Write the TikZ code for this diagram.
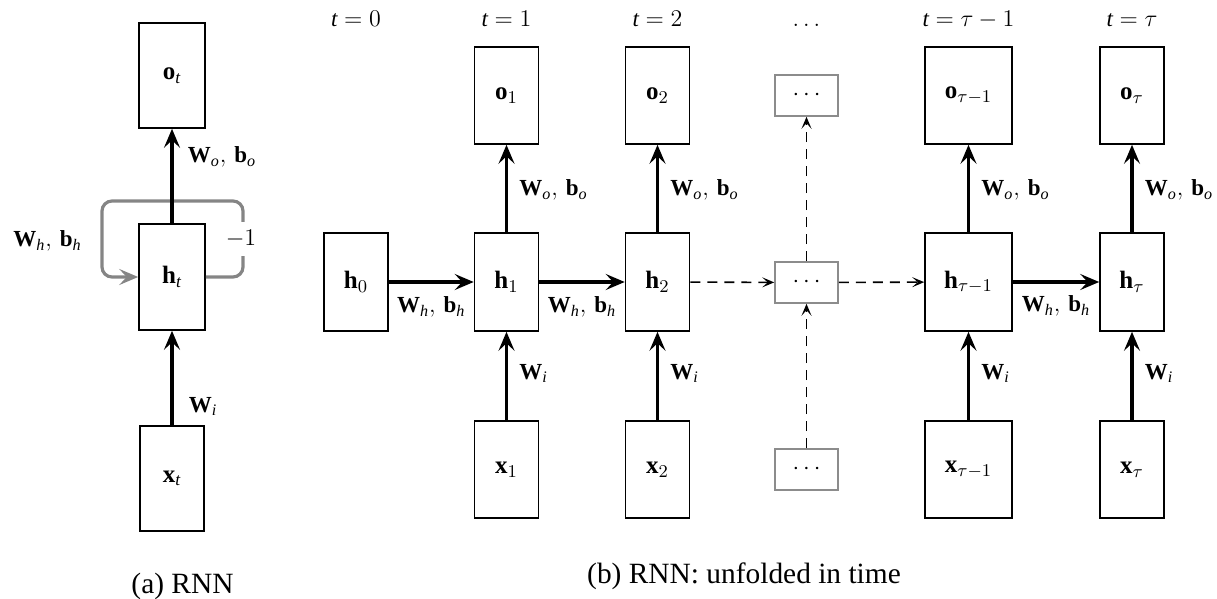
\documentclass[tikz,border=0pt]{standalone}
\usepackage{fontspec}
\setmainfont{Liberation Serif}
\usetikzlibrary{arrows.meta}

\begin{document}
\begin{tikzpicture}[x=0.5pt,y=-0.5pt,
  every node/.style={font=\fontsize{11.5}{14}\selectfont},
  box/.style={draw,line width=0.8pt,inner sep=0pt,minimum width=32pt,
    font=\fontsize{12.5}{15}\selectfont},
  obox/.style={box,minimum height=48.5pt},
  hbox/.style={box,minimum height=49pt},
  xbox/.style={box,minimum height=48.5pt},
  wide/.style={minimum width=43.5pt},
  ghost/.style={draw=black!45,line width=0.8pt,inner sep=0pt,
    minimum width=31.5pt,minimum height=20.5pt},
  flow/.style={line width=1.8pt,-{Stealth[length=9.5pt,width=8pt,inset=3.8pt]}},
  dflow/.style={line width=0.8pt,dash pattern=on 5pt off 3.5pt,
    -{Stealth[length=6pt,width=5pt,inset=2.8pt]}},
  loopline/.style={draw=black!48,line width=1.6pt,rounded corners=5pt,
    -{Stealth[length=9.5pt,width=8pt,inset=3.8pt]}},
  lbl/.style={inner sep=0pt},
  caption/.style={font=\fontsize{14.7}{18}\selectfont,anchor=base}
]
\useasboundingbox (0,0) rectangle (1217,599);

% ---------- (a) folded RNN ----------
\node[box,minimum width=33pt,minimum height=52.5pt] (ot) at (172,75.5) {$\mathbf{o}_{\mathit{t}}$};
\node[box,minimum width=33pt,minimum height=53pt]   (ht) at (172,277)  {$\mathbf{h}_{\mathit{t}}$};
\node[box,minimum width=32pt,minimum height=52.5pt] (xt) at (172,478.5) {$\mathbf{x}_{\mathit{t}}$};

\draw[loopline] (ht.east) -| (243,201) -| (102,277) -- (ht.west);
\node[fill=white,inner xsep=1pt,inner ysep=4pt] (delay) at (241,239) {$-1$};
\node[lbl] (whleft) at (47.5,241) {$\mathbf{W}_{\mathit{h}},\,\mathbf{b}_{\mathit{h}}$};

\draw[flow] (ht) -- (ot) node[lbl,pos=0.70,right=7pt] (woleft) {$\mathbf{W}_{\mathit{o}},\,\mathbf{b}_{\mathit{o}}$};
\draw[flow] (xt) -- (ht) node[lbl,pos=0.20,right=7.5pt] (wileft) {$\mathbf{W}_{\mathit{i}}$};

\node[caption] (capa) at (182.5,593) {(a) RNN};

% ---------- (b) unfolded in time ----------
% time stamps
\node[anchor=base] (t0)   at (356,27)   {$\mathit{t}=0$};
\node[anchor=base] (t1)   at (506.5,27) {$\mathit{t}=1$};
\node[anchor=base] (t2)   at (657.5,27) {$\mathit{t}=2$};
\node[anchor=base] (tdot) at (806.5,27) {$\ldots$};
\node[anchor=base] (tm)   at (968.5,27) {$\mathit{t}=\tau-1$};
\node[anchor=base] (tT)   at (1132,27)  {$\mathit{t}=\tau$};

% outputs
\node[obox] (o1) at (506.5,95.5) {$\mathbf{o}_{1}$};
\node[obox] (o2) at (657.5,95.5) {$\mathbf{o}_{2}$};
\node[ghost] (od) at (806.5,95.5) {$\cdots$};
\node[obox,wide] (om) at (968.5,95.5) {$\mathbf{o}_{\tau-1}$};
\node[obox] (oT) at (1132,95.5) {$\mathbf{o}_{\tau}$};

% hidden states
\node[hbox] (h0) at (356,282)   {$\mathbf{h}_{0}$};
\node[hbox] (h1) at (506.5,282) {$\mathbf{h}_{1}$};
\node[hbox] (h2) at (657.5,282) {$\mathbf{h}_{2}$};
\node[ghost] (hd) at (806.5,282.5) {$\cdots$};
\node[hbox,wide] (hm) at (968.5,282) {$\mathbf{h}_{\tau-1}$};
\node[hbox] (hT) at (1132,282) {$\mathbf{h}_{\tau}$};

% inputs
\node[xbox] (x1) at (506.5,469.5) {$\mathbf{x}_{1}$};
\node[xbox] (x2) at (657.5,469.5) {$\mathbf{x}_{2}$};
\node[ghost] (xd) at (806.5,469.5) {$\cdots$};
\node[xbox,wide] (xm) at (968.5,469.5) {$\mathbf{x}_{\tau-1}$};
\node[xbox] (xT) at (1132,469.5) {$\mathbf{x}_{\tau}$};

% recurrent connections
\draw[flow] (h0) -- (h1) node[lbl,midway,yshift=-12.5pt] (wh01) {$\mathbf{W}_{\mathit{h}},\,\mathbf{b}_{\mathit{h}}$};
\draw[flow] (h1) -- (h2) node[lbl,midway,yshift=-12.5pt] (wh12) {$\mathbf{W}_{\mathit{h}},\,\mathbf{b}_{\mathit{h}}$};
\draw[dflow] (h2) -- (hd);
\draw[dflow] (hd) -- (hm);
\draw[flow] (hm) -- (hT) node[lbl,midway,yshift=-12pt] (whmT) {$\mathbf{W}_{\mathit{h}},\,\mathbf{b}_{\mathit{h}}$};

% output connections
\foreach \h/\o in {h1/o1,h2/o2,hm/om,hT/oT}
  \draw[flow] (\h) -- (\o) node[lbl,pos=0.48,right=5.5pt] {$\mathbf{W}_{\mathit{o}},\,\mathbf{b}_{\mathit{o}}$};
\draw[dflow] (hd) -- (od);

% input connections
\foreach \x/\h in {x1/h1,x2/h2,xm/hm,xT/hT}
  \draw[flow] (\x) -- (\h) node[lbl,pos=0.53,right=5.5pt] {$\mathbf{W}_{\mathit{i}}$};
\draw[dflow] (xd) -- (hd);

\node[caption] (capb) at (744,583) {(b) RNN: unfolded in time};
\end{tikzpicture}
\end{document}
